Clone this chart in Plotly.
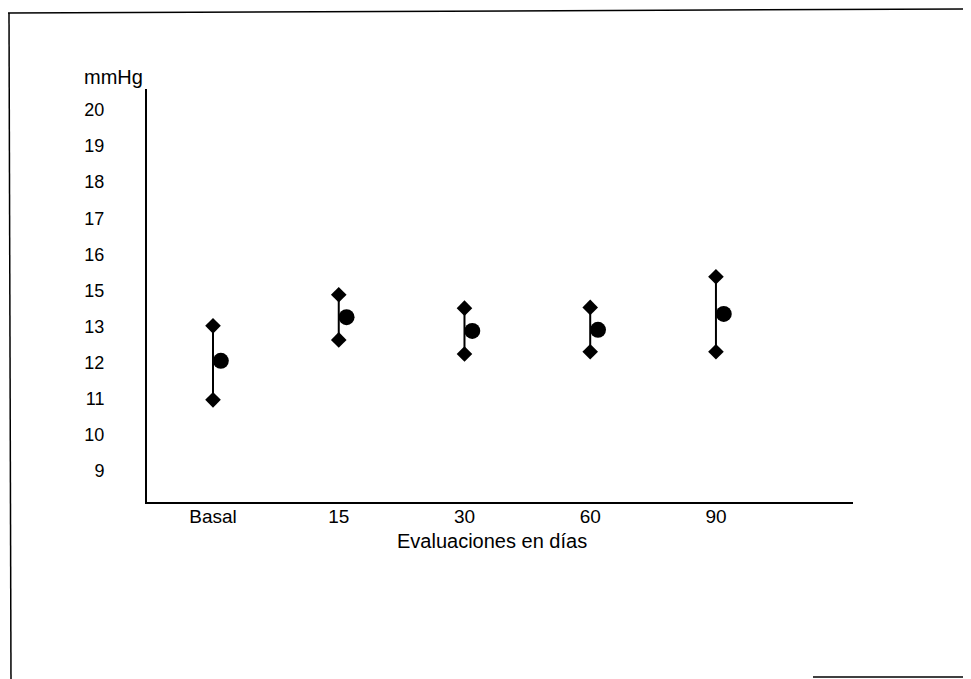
import plotly.graph_objects as go

# ---- data (values read in axis-position units; tick labels as printed) ----
categories = ["Basal", "15", "30", "60", "90"]
high_vals = [14.02, 14.88, 14.51, 14.53, 15.38]
low_vals = [11.97, 13.63, 13.24, 13.30, 13.30]
mean_vals = [13.05, 14.26, 13.88, 13.91, 14.35]
y_tickvals = [20, 19, 18, 17, 16, 15, 14, 13, 12, 11, 10]
y_ticktext = ["20", "19", "18", "17", "16", "15", "13", "12", "11", "10", "9"]

OFF = 8  # page body margin
W, H = 971 - OFF, 679 - OFF
L, R, T, B = 147 - OFF, 118, 89 - OFF, 177
PW, PH = W - L - R, H - T - B

def px(x):
    return (x - OFF - L) / PW

def py(y):
    return (H - B - (y - OFF)) / PH

FAM = "Liberation Sans, Arial, sans-serif"
YFONT = dict(family=FAM, size=18, color="black")
XFONT = dict(family=FAM, size=19, color="black")
TFONT = dict(family=FAM, size=20, color="black")

fig = go.Figure()

# vertical range lines
lx, ly = [], []
for c, lo, hi in zip(categories, low_vals, high_vals):
    lx += [c, c, None]
    ly += [lo, hi, None]
fig.add_trace(go.Scatter(x=lx, y=ly, mode="lines",
                         line=dict(color="black", width=2),
                         hoverinfo="skip", showlegend=False))

# high / low diamonds
fig.add_trace(go.Scatter(x=categories + categories, y=high_vals + low_vals,
                         mode="markers",
                         marker=dict(symbol="diamond", size=12, color="black"),
                         showlegend=False))

# mean circles (slightly offset axis)
fig.add_trace(go.Scatter(x=categories, y=mean_vals, mode="markers",
                         marker=dict(symbol="circle", size=16, color="black"),
                         xaxis="x2", showlegend=False))

xr = [-0.525, 5.09]
dx = 0.062
fig.update_layout(
    width=W, height=H,
    margin=dict(l=L, r=R, t=T, b=B),
    paper_bgcolor="white", plot_bgcolor="white",
    font=YFONT,
    showlegend=False,
    xaxis=dict(type="category", categoryorder="array", categoryarray=categories,
               range=xr, showgrid=False, zeroline=False,
               showline=True, linecolor="black", linewidth=1.5,
               ticks="", tickfont=XFONT, ticklabelstandoff=-4),
    xaxis2=dict(type="category", categoryorder="array", categoryarray=categories,
                overlaying="x", range=[xr[0] - dx, xr[1] - dx],
                visible=False),
    yaxis=dict(range=[9.14, 20.58], tickvals=y_tickvals, ticktext=y_ticktext,
               showgrid=False, zeroline=False,
               showline=True, linecolor="black", linewidth=2,
               ticks="", tickfont=YFONT, ticklabelstandoff=37),
    annotations=[
        dict(text="mmHg", x=px(113), y=py(77), xref="paper", yref="paper",
             xanchor="center", yanchor="middle", showarrow=False, font=TFONT),
        dict(text="Evaluaciones en días", x=px(492), y=py(541),
             xref="paper", yref="paper", xanchor="center", yanchor="middle",
             showarrow=False, font=TFONT),
    ],
    shapes=[
        dict(type="line", xref="paper", yref="paper",
             x0=px(8), y0=py(13), x1=px(971), y1=py(9),
             line=dict(color="black", width=1.5)),
        dict(type="line", xref="paper", yref="paper",
             x0=px(9), y0=py(13), x1=px(11), y1=py(679),
             line=dict(color="black", width=1.5)),
        dict(type="line", xref="paper", yref="paper",
             x0=px(813), y0=py(677), x1=px(971), y1=py(677),
             line=dict(color="black", width=1.5)),
    ],
)

fig.write_html("out.html")
